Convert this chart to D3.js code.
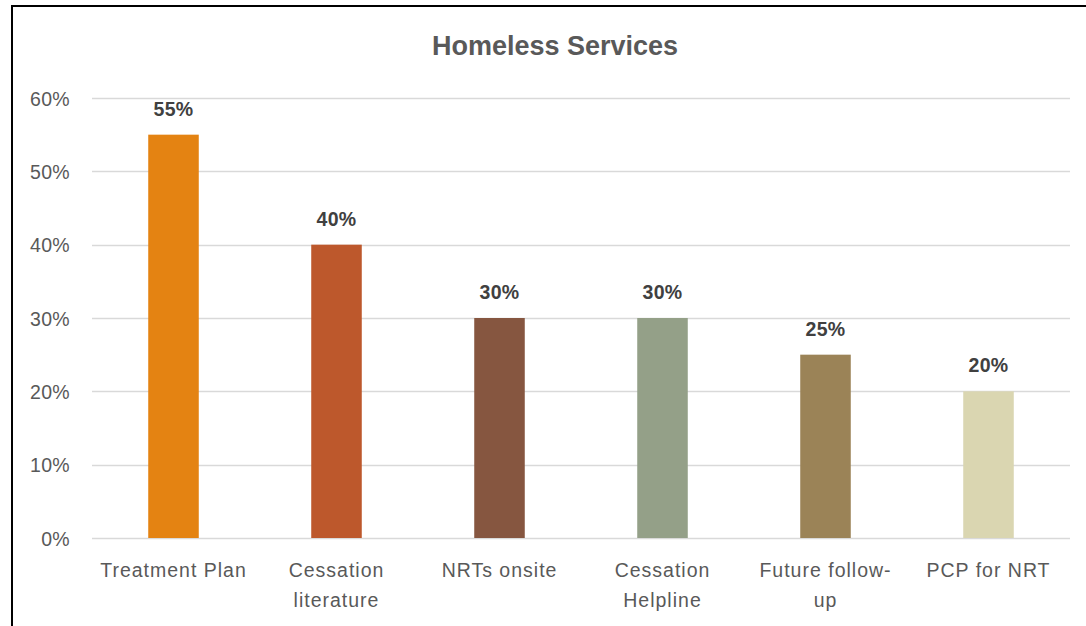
<!DOCTYPE html>
<html>
<head>
<meta charset="utf-8">
<script src="https://cdn.jsdelivr.net/npm/d3@7"></script>
<style>
  html, body { margin: 0; padding: 0; background: #fff; }
  svg { display: block; }
</style>
</head>
<body>
<svg id="chart" width="1086" height="626"></svg>
<script>
// Share of homeless-service sites offering each cessation service
const categories = [
  ["Treatment Plan"],
  ["Cessation", "literature"],
  ["NRTs onsite"],
  ["Cessation", "Helpline"],
  ["Future follow-", "up"],
  ["PCP for NRT"]
];
const values = [0.55, 0.40, 0.30, 0.30, 0.25, 0.20];
const barColors = ["#E48312", "#BD582C", "#865640", "#94A088", "#9B8357", "#DAD6B1"];
const yTicks = [0, 0.1, 0.2, 0.3, 0.4, 0.5, 0.6];
const title = "Homeless Services";

const W = 1086, H = 626;
const margin = { left: 92, right: 16, top: 98, bottom: 88 };
const svg = d3.select("#chart");
const font = "'Liberation Sans', Arial, sans-serif";
const pct = d3.format(".0%");

// chart frame
svg.append("rect")
  .attr("x", 12).attr("y", 6)
  .attr("width", W).attr("height", H)
  .attr("fill", "#fff").attr("stroke", "#000").attr("stroke-width", 2);

const x = d3.scaleBand()
  .domain(d3.range(categories.length))
  .range([margin.left, W - margin.right])
  .paddingInner(0.69).paddingOuter(0.345);

const y = d3.scaleLinear()
  .domain([0, 0.6])
  .range([538, 98]);

// gridlines
svg.append("g")
  .selectAll("line")
  .data(yTicks)
  .join("line")
  .attr("x1", margin.left).attr("x2", W - margin.right)
  .attr("y1", d => Math.round(y(d)) + 0.5).attr("y2", d => Math.round(y(d)) + 0.5)
  .attr("stroke", "#D9D9D9").attr("stroke-width", 1.5);

// y axis labels
const yAxis = d3.axisLeft(y).tickValues(yTicks).tickFormat(pct).tickSize(0).tickPadding(0);
const gy = svg.append("g").attr("transform", "translate(70,1)").call(yAxis);
gy.select(".domain").remove();
gy.selectAll("text")
  .attr("fill", "#595959")
  .style("font-family", font)
  .style("font-size", "19.5px")
  .style("letter-spacing", "0.3px");

// bars
svg.append("g")
  .selectAll("rect")
  .data(values)
  .join("rect")
  .attr("x", (d, i) => x(i))
  .attr("width", x.bandwidth())
  .attr("y", d => y(d))
  .attr("height", d => y(0) - y(d))
  .attr("fill", (d, i) => barColors[i]);

// value labels
svg.append("g")
  .selectAll("text")
  .data(values)
  .join("text")
  .attr("x", (d, i) => x(i) + x.bandwidth() / 2)
  .attr("y", d => y(d) - 19)
  .attr("text-anchor", "middle")
  .attr("fill", "#404040")
  .style("font-family", font)
  .style("font-size", "19.5px")
  .style("font-weight", "bold")
  .style("letter-spacing", "0.3px")
  .text(d => pct(d));

// category labels
const cat = svg.append("g")
  .selectAll("text")
  .data(categories)
  .join("text")
  .attr("text-anchor", "middle")
  .attr("fill", "#595959")
  .style("font-family", font)
  .style("font-size", "19.5px")
  .style("letter-spacing", "1px")
  .attr("transform", (d, i) => `translate(${x(i) + x.bandwidth() / 2},577)`);
cat.selectAll("tspan")
  .data(d => d)
  .join("tspan")
  .attr("x", 0)
  .attr("dy", (d, j) => j === 0 ? 0 : 30)
  .text(d => d);

// title
svg.append("text")
  .attr("x", 555).attr("y", 55)
  .attr("text-anchor", "middle")
  .attr("fill", "#595959")
  .style("font-family", font)
  .style("font-size", "27px")
  .style("font-weight", "bold")
  .text(title);
</script>
</body>
</html>
